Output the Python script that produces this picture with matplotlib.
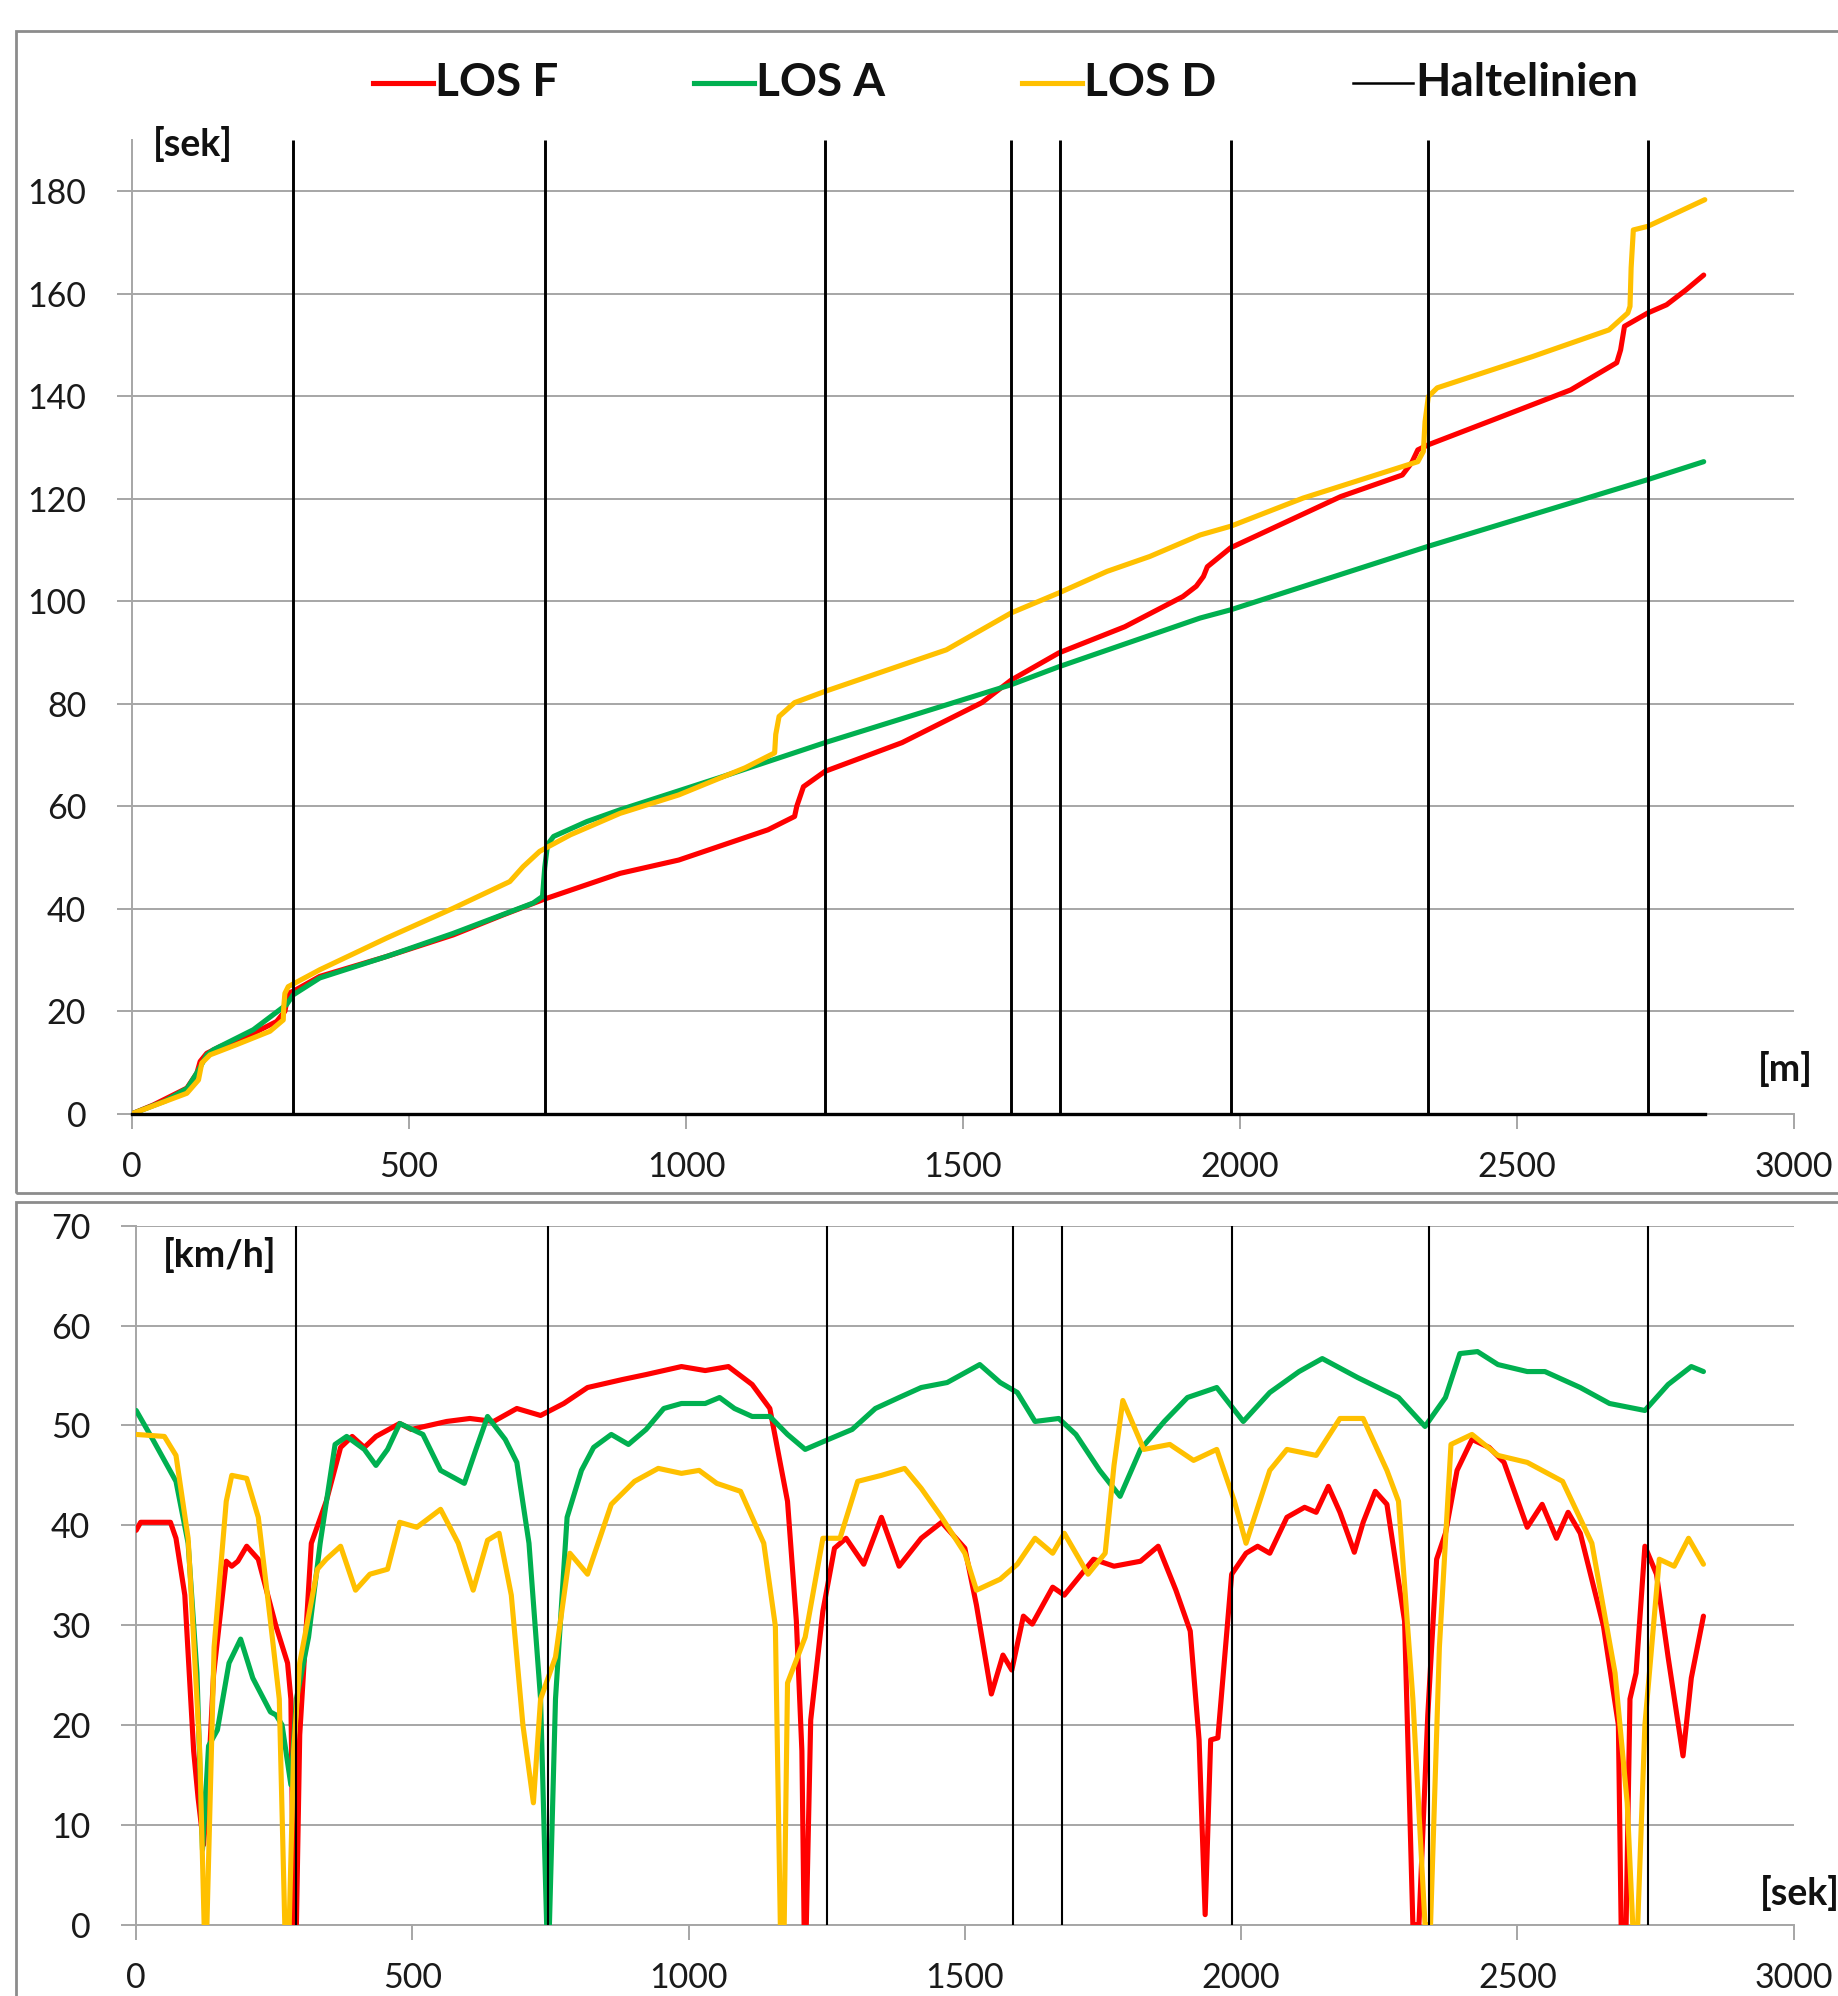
import matplotlib
matplotlib.use("Agg")
import matplotlib.pyplot as plt
from matplotlib.lines import Line2D
from matplotlib.patches import Rectangle

plt.rcParams['font.family'] = ['Lato', 'DejaVu Sans']

# ---------------- data ----------------
series_labels = ["LOS F", "LOS A", "LOS D", "Haltelinien"]
series_colors = ["#ff0000", "#00b050", "#ffc000", "#000000"]

halt_lines = [290, 745, 1251, 1587, 1675, 1983, 2340, 2736]

# travel time [sek] over distance [m]
losf_t_x = [0, 38, 99, 117, 123, 135, 159, 219, 261, 276, 282, 291, 339, 460, 580, 670, 745, 881, 987,
            1148, 1196, 1200, 1212, 1251, 1390, 1534, 1587, 1673, 1792, 1897, 1921, 1934, 1941, 1983,
            2182, 2293, 2310, 2321, 2340, 2458, 2597, 2680, 2687, 2694, 2736, 2770, 2805, 2837]
losf_t_y = [0, 1.7, 5.0, 7.9, 10.2, 11.8, 13.1, 15.7, 18.0, 20.0, 23.5, 23.9, 26.8, 30.7, 34.9, 38.8, 41.9,
            46.9, 49.5, 55.4, 58.0, 60.0, 63.8, 66.8, 72.4, 80.2, 84.6, 89.9, 95.0, 100.9, 102.9, 104.8,
            106.7, 110.4, 120.4, 124.6, 127.0, 129.5, 130.5, 135.4, 141.2, 146.5, 149.0, 153.6, 156.2,
            157.8, 160.7, 163.6]

losa_t_x = [0, 60, 100, 120, 135, 147, 219, 279, 291, 339, 460, 580, 724, 741, 745, 750, 761, 821, 881,
            1067, 1251, 1587, 1673, 1928, 1983, 2340, 2736, 2837]
losa_t_y = [0, 2.5, 5.0, 8.5, 11.5, 12.5, 16.4, 21.3, 23.2, 26.5, 30.7, 35.2, 41.1, 42.4, 48.0, 52.5,
            54.1, 57.0, 59.3, 65.8, 72.4, 83.7, 87.2, 96.7, 98.3, 110.7, 123.7, 127.2]

losd_t_x = [0, 99, 120, 126, 141, 189, 249, 273, 274, 276, 282, 339, 460, 580, 682, 706, 736, 791, 881,
            987, 1107, 1160, 1162, 1168, 1196, 1251, 1470, 1587, 1673, 1760, 1837, 1928, 1983, 2114,
            2321, 2331, 2334, 2340, 2356, 2528, 2666, 2700, 2704, 2706, 2710, 2736, 2839]
losd_t_y = [0, 4.0, 6.6, 9.9, 11.5, 13.5, 16.1, 18.3, 21.0, 23.5, 24.8, 28.1, 34.3, 40.1, 45.3, 48.2,
            51.2, 54.4, 58.6, 62.2, 67.5, 70.4, 74.0, 77.5, 80.2, 82.4, 90.5, 97.7, 101.6, 105.8, 108.7,
            112.9, 114.6, 120.1, 127.2, 129.2, 135.0, 139.9, 141.6, 147.7, 152.9, 156.2, 157.5, 165.0,
            172.4, 173.1, 178.3]

# speed [km/h] over distance
losf_v_x = [0, 8, 62, 72, 88, 104, 112, 122, 130, 140, 163, 173, 184, 200, 221, 253, 274, 280, 285, 290,
            296, 317, 344, 370, 391, 413, 434, 477, 498, 562, 604, 647, 689, 732, 774, 817, 880, 923,
            987, 1030, 1072, 1115, 1147, 1179, 1195, 1205, 1209, 1213, 1221, 1243, 1264, 1285, 1317,
            1349, 1381, 1421, 1458, 1500, 1521, 1548, 1569, 1585, 1606, 1622, 1659, 1680, 1733, 1770,
            1818, 1850, 1882, 1908, 1924, 1935, 1945, 1958, 1983, 2009, 2030, 2052, 2083, 2115, 2136,
            2158, 2179, 2205, 2221, 2243, 2264, 2296, 2311, 2322, 2338, 2354, 2370, 2391, 2418, 2449,
            2476, 2518, 2545, 2571, 2592, 2614, 2656, 2683, 2688, 2697, 2704, 2715, 2731, 2752, 2773,
            2800, 2815, 2837]
losf_v_y = [39.5, 40.3, 40.3, 38.7, 33.0, 17.4, 12.7, 8.0, 14.0, 25.0, 36.4, 35.9, 36.4, 37.9, 36.6,
            29.9, 26.2, 22.6, 0, 0, 19.0, 38.2, 42.4, 47.8, 48.9, 47.8, 48.9, 50.2, 49.6, 50.4, 50.7,
            50.4, 51.7, 51.0, 52.2, 53.8, 54.6, 55.1, 55.9, 55.5, 55.9, 54.1, 51.7, 42.4, 30.4, 17.4, 0,
            0, 20.5, 31.4, 37.7, 38.7, 36.1, 40.8, 35.9, 38.7, 40.3, 37.7, 32.0, 23.1, 27.0, 25.5, 30.9,
            30.1, 33.8, 33.0, 36.6, 35.9, 36.4, 37.9, 33.5, 29.4, 18.5, 1.0, 18.5, 18.7, 35.1, 37.2,
            37.9, 37.2, 40.8, 41.8, 41.3, 43.9, 41.3, 37.3, 40.3, 43.4, 42.1, 30.4, 0, 0, 21.0, 36.6,
            39.2, 45.5, 48.6, 47.8, 46.3, 39.8, 42.1, 38.7, 41.3, 39.2, 29.9, 20.0, 0, 0, 22.6, 25.2,
            37.9, 35.1, 26.8, 16.9, 24.7, 30.9]

losa_v_x = [0, 30, 72, 94, 110, 120, 131, 147, 168, 189, 211, 243, 253, 264, 280, 290, 312, 333, 360,
            381, 413, 434, 455, 477, 519, 551, 594, 615, 636, 668, 689, 711, 732, 743, 748, 759, 780,
            806, 828, 860, 891, 923, 955, 987, 1030, 1056, 1083, 1115, 1147, 1179, 1211, 1253, 1296,
            1338, 1381, 1421, 1468, 1527, 1564, 1595, 1627, 1670, 1701, 1744, 1781, 1818, 1861, 1903,
            1956, 2004, 2052, 2105, 2147, 2211, 2285, 2333, 2370, 2396, 2428, 2465, 2518, 2550, 2614,
            2667, 2731, 2773, 2815, 2837]
losa_v_y = [51.5, 48.6, 44.4, 38.2, 25.2, 7.5, 17.9, 19.5, 26.2, 28.6, 24.7, 21.3, 21.0, 20.0, 14.0,
            22.6, 28.8, 38.2, 48.1, 48.9, 47.6, 46.0, 47.6, 50.2, 49.1, 45.5, 44.2, 47.6, 50.9, 48.6,
            46.3, 38.2, 22.6, 0, 0, 22.6, 40.8, 45.5, 47.8, 49.1, 48.1, 49.6, 51.7, 52.2, 52.2, 52.8,
            51.7, 50.9, 50.9, 49.1, 47.6, 48.6, 49.6, 51.7, 52.8, 53.8, 54.3, 56.1, 54.3, 53.3, 50.4,
            50.7, 49.1, 45.5, 42.9, 47.6, 50.4, 52.8, 53.8, 50.4, 53.3, 55.4, 56.7, 54.8, 52.8, 49.9,
            52.8, 57.2, 57.4, 56.1, 55.4, 55.4, 53.8, 52.2, 51.5, 54.1, 55.9, 55.4]

losd_v_x = [0, 51, 72, 94, 115, 123, 128, 141, 163, 173, 200, 221, 243, 259, 269, 277, 285, 296, 328,
            344, 370, 397, 423, 455, 477, 508, 551, 583, 610, 636, 657, 679, 700, 719, 732, 759, 785,
            817, 860, 902, 945, 987, 1019, 1051, 1094, 1136, 1157, 1166, 1173, 1179, 1211, 1243, 1274,
            1306, 1349, 1391, 1421, 1458, 1500, 1521, 1564, 1595, 1627, 1659, 1680, 1723, 1754, 1770,
            1786, 1824, 1871, 1914, 1956, 1988, 2009, 2052, 2083, 2136, 2179, 2221, 2264, 2285, 2311,
            2333, 2343, 2359, 2380, 2418, 2465, 2518, 2582, 2635, 2677, 2699, 2709, 2718, 2731, 2757,
            2784, 2810, 2837]
losd_v_y = [49.1, 48.9, 47.0, 38.7, 17.4, 0, 0, 27.8, 42.4, 45.0, 44.7, 40.8, 30.4, 22.6, 0, 0, 17.4,
            26.2, 35.6, 36.6, 37.9, 33.5, 35.1, 35.6, 40.3, 39.8, 41.6, 38.2, 33.5, 38.5, 39.2, 33.0,
            20.0, 12.2, 22.6, 26.8, 37.2, 35.1, 42.1, 44.4, 45.7, 45.2, 45.5, 44.2, 43.4, 38.2, 29.9, 0,
            0, 24.2, 28.8, 38.7, 38.7, 44.4, 45.0, 45.7, 43.7, 40.8, 37.2, 33.5, 34.6, 36.1, 38.7, 37.2,
            39.2, 35.1, 37.2, 46.0, 52.5, 47.6, 48.1, 46.5, 47.6, 42.4, 38.2, 45.5, 47.6, 47.0, 50.7,
            50.7, 45.5, 42.4, 22.6, 0, 0, 27.8, 48.1, 49.1, 47.0, 46.3, 44.4, 38.2, 25.2, 12.2, 0, 0,
            20.0, 36.6, 35.9, 38.7, 36.1]

top_yticks = [0, 20, 40, 60, 80, 100, 120, 140, 160, 180]
bot_yticks = [0, 10, 20, 30, 40, 50, 60, 70]
xticks = [0, 500, 1000, 1500, 2000, 2500, 3000]

# ---------------- figure ----------------
W, H = 1838, 1996
fig = plt.figure(figsize=(W / 100, H / 100), dpi=100)

# panel frames
fig.patches.append(Rectangle((16 / W, 1 - 1193 / H), 1.2, (1193 - 31) / H, transform=fig.transFigure,
                             fill=False, edgecolor="#8c8c8c", lw=2.0, zorder=0))
fig.patches.append(Rectangle((16 / W, -0.1), 1.2, 0.1 + 1 - 1202 / H, transform=fig.transFigure,
                             fill=False, edgecolor="#8c8c8c", lw=2.0, zorder=0))

ax1 = fig.add_axes([132 / W, 1 - 1113.8 / H, (1794 - 132) / W, (1113.8 - 139.7) / H])
ax2 = fig.add_axes([136.2 / W, 1 - 1924.6 / H, (1793.5 - 136.2) / W, (1924.6 - 1225.8) / H])

grid_c = "#a6a6a6"
line_w = 3.7

def style(ax, yticks, ymax):
    ax.set_xlim(0, 3000)
    ax.set_ylim(0, ymax)
    ax.set_xticks(xticks)
    ax.set_yticks(yticks)
    ax.grid(axis="y", color=grid_c, lw=1.4)
    ax.set_axisbelow(True)
    for s in ["top", "right"]:
        ax.spines[s].set_visible(False)
    for s in ["left", "bottom"]:
        ax.spines[s].set_color(grid_c)
        ax.spines[s].set_linewidth(1.4)
    ax.tick_params(axis="both", colors=grid_c, length=11, width=1.4, labelsize=24.5,
                   labelcolor="#1a1a1a")
    ax.tick_params(axis="y", pad=22)
    ax.tick_params(axis="x", pad=16)

style(ax1, top_yticks, 190)
style(ax2, bot_yticks, 70)

pk = dict(lw=line_w, solid_capstyle="round", solid_joinstyle="round", zorder=3)

# top panel: travel time
ax1.plot(losf_t_x, losf_t_y, color=series_colors[0], **pk)
ax1.plot(losa_t_x, losa_t_y, color=series_colors[1], **pk)
ax1.plot(losd_t_x, losd_t_y, color=series_colors[2], **pk)
ax1.vlines(halt_lines, 0, 190, color="black", lw=2.1, zorder=4)
ax1.plot([0, max(losd_t_x)], [0, 0], color="black", lw=2.4, zorder=4, clip_on=False)

# bottom panel: speed
ax2.plot(losf_v_x, losf_v_y, color=series_colors[0], **pk)
ax2.plot(losa_v_x, losa_v_y, color=series_colors[1], **pk)
ax2.plot(losd_v_x, losd_v_y, color=series_colors[2], **pk)
ax2.vlines(halt_lines, 0, 70, color="black", lw=1.5, zorder=4)

# axis unit labels
lab_kw = dict(fontsize=27, fontweight="bold", color="#111111")
ax1.text(0.0126, 0.996, "[sek]", transform=ax1.transAxes, ha="left", va="center", **lab_kw)
ax1.text(0.978, 0.046, "[m]", transform=ax1.transAxes, ha="left", va="center", **lab_kw)
ax2.text(0.0162, 0.958, "[km/h]", transform=ax2.transAxes, ha="left", va="center", **lab_kw)
ax2.text(0.98, 0.045, "[sek]", transform=ax2.transAxes, ha="left", va="center", **lab_kw)

# legend
leg_y = 1 - 83 / H
handle_x = [373, 694, 1022, 1353]
for lab, col, hx in zip(series_labels, series_colors, handle_x):
    lw = line_w if col != "#000000" else 1.8
    fig.add_artist(Line2D([hx / W, (hx + 60) / W], [leg_y, leg_y], transform=fig.transFigure,
                          color=col, lw=lw))
    fig.text((hx + 62) / W, leg_y, lab, ha="left", va="center", fontsize=33,
             fontweight="bold", color="#111111")

fig.savefig("out.png", dpi=100)
